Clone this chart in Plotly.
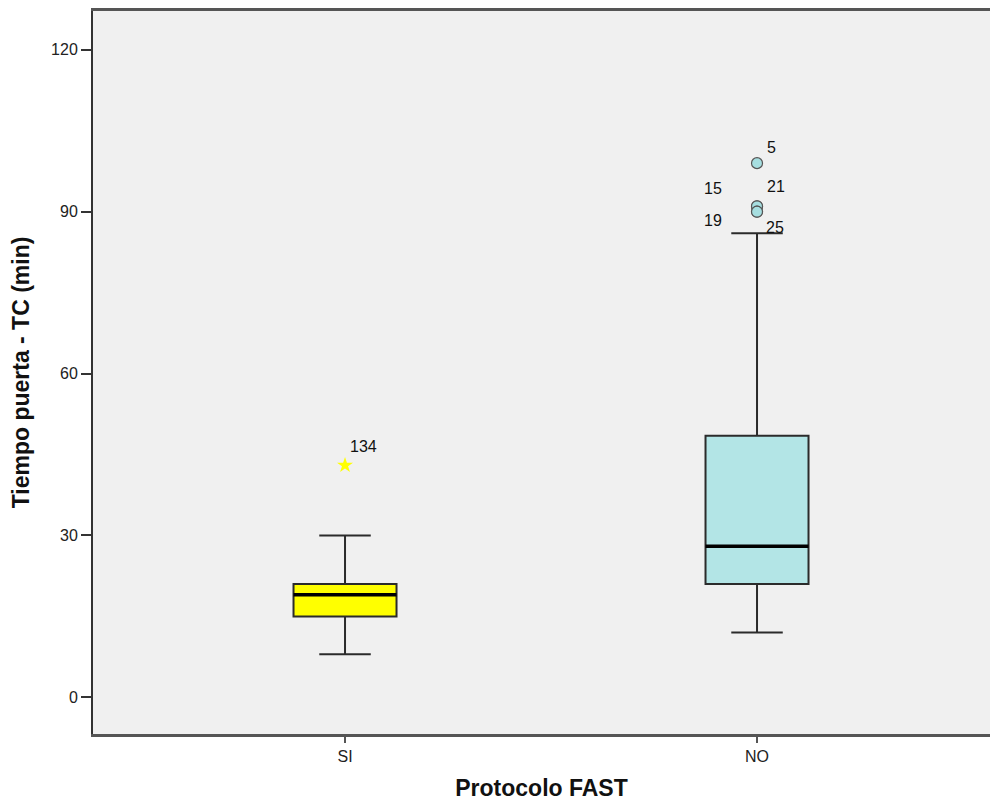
import plotly.graph_objects as go

# ---- data ----
categories = ["SI", "NO"]
q1 = [15, 21]
median = [19, 28]
q3 = [21, 48.5]
lower_whisker = [8, 12]
upper_whisker = [30, 86]
box_colors = ["#FFFF00", "#B3E5E6"]

si_outlier_vals = [43]
si_outlier_ids = ["134"]

no_outlier_vals = [99, 91, 91, 90, 90]
no_outlier_ids = ["5", "15", "21", "19", "25"]

y_ticks = [0, 30, 60, 90, 120]

# label placement (style only): (xanchor, xshift, yshift)
si_label_style = [("left", 3, 19)]
no_label_style = [("left", 8, 16), ("right", -33, 18), ("left", 8, 20),
                  ("right", -33, -9), ("left", 7, -16)]

# ---- figure ----
xpos = list(range(len(categories)))
box_w = 0.25
fig = go.Figure()

for i, cat in enumerate(categories):
    fig.add_trace(go.Box(
        x=[xpos[i]], q1=[q1[i]], median=[median[i]], q3=[q3[i]],
        lowerfence=[lower_whisker[i]], upperfence=[upper_whisker[i]],
        width=box_w, whiskerwidth=0.5,
        fillcolor=box_colors[i],
        line=dict(color="#2b2b2b", width=2),
        boxpoints=False, showlegend=False, hoverinfo="skip",
    ))
    # thick median line
    fig.add_trace(go.Scatter(
        x=[xpos[i] - box_w / 2, xpos[i] + box_w / 2], y=[median[i], median[i]],
        mode="lines", line=dict(color="black", width=3.5),
        showlegend=False, hoverinfo="skip",
    ))

label_font = dict(family="Liberation Sans, Arial", size=16, color="#111")

fig.add_trace(go.Scatter(
    x=[xpos[0]] * len(si_outlier_vals), y=si_outlier_vals,
    mode="markers",
    marker=dict(symbol="star", size=12, color="#FFFF00", line=dict(width=0)),
    showlegend=False,
))

fig.add_trace(go.Scatter(
    x=[xpos[1]] * len(no_outlier_vals), y=no_outlier_vals,
    mode="markers",
    marker=dict(symbol="circle", size=11, color="#A6DEE0",
                line=dict(color="#555555", width=1.2)),
    showlegend=False,
))

for xi, vals, ids, styles in [(xpos[0], si_outlier_vals, si_outlier_ids, si_label_style),
                              (xpos[1], no_outlier_vals, no_outlier_ids, no_label_style)]:
    for v, t, (xa, xs, ys) in zip(vals, ids, styles):
        fig.add_annotation(x=xi, y=v, text=t, showarrow=False,
                           xanchor=xa, yanchor="middle", xshift=xs, yshift=ys,
                           font=label_font)

fig.update_layout(
    width=982, height=793,
    margin=dict(l=85, r=0, t=1, b=67),
    paper_bgcolor="white", plot_bgcolor="#F0F0F0",
    font=dict(family="Liberation Sans, Arial", size=16, color="#222"),
    xaxis=dict(
        range=[-0.6117, 1.5655],
        tickvals=xpos, ticktext=categories,
        showgrid=False, zeroline=False,
        showline=True, linecolor="#555555", linewidth=2.5, mirror=True,
        ticks="outside", ticklen=6, tickcolor="#555555", tickwidth=1.5,
        tickfont=dict(size=16),
        title=dict(text="<b>Protocolo FAST</b>", font=dict(size=23, color="#111"), standoff=20),
    ),
    yaxis=dict(
        range=[-6.8, 127.2],
        tickvals=y_ticks,
        showgrid=False, zeroline=False,
        showline=True, linecolor="#333333", linewidth=2, mirror=False,
        ticks="outside", ticklen=10, tickcolor="#333333", tickwidth=1.5,
        tickfont=dict(size=16),
        title=dict(text="<b>Tiempo puerta - TC (min)</b>", font=dict(size=23, color="#111"), standoff=16),
    ),
)

fig.write_html("out.html")
